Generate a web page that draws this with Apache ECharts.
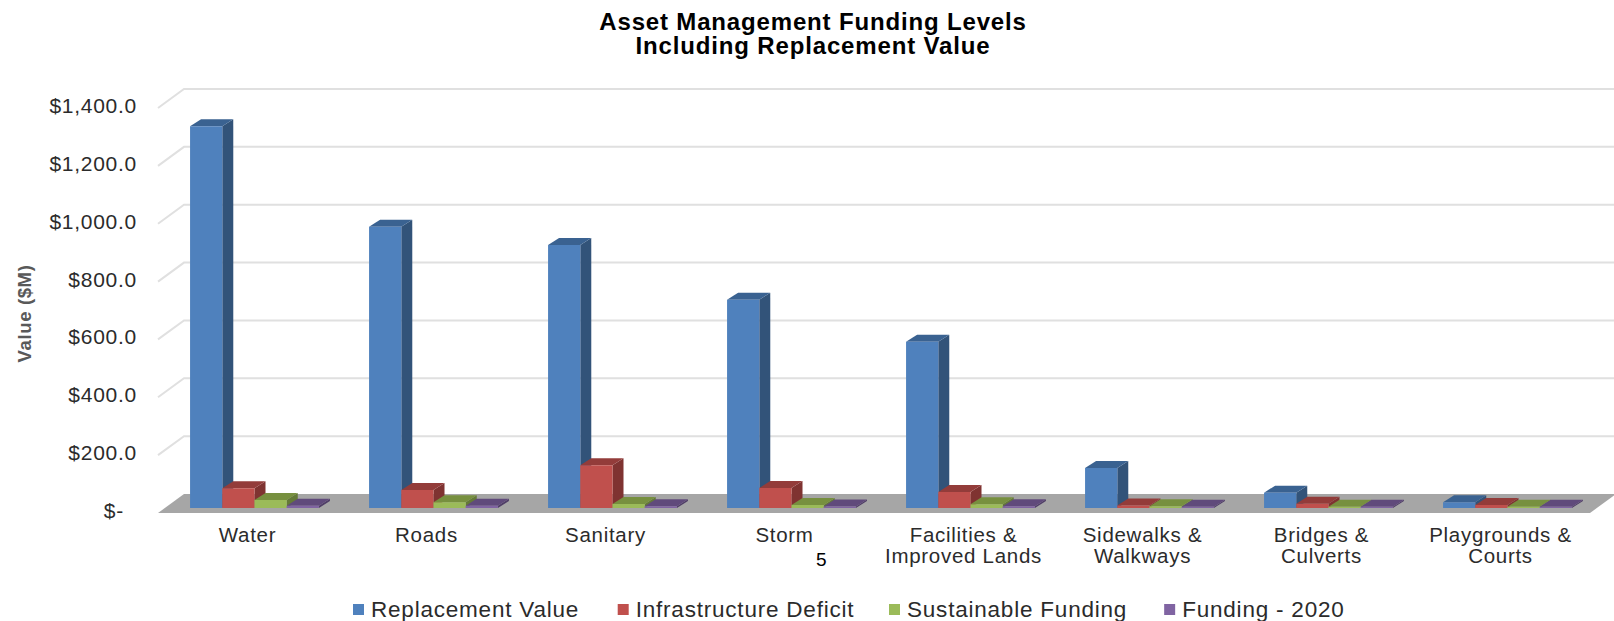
<!DOCTYPE html>
<html><head><meta charset="utf-8">
<style>html,body{margin:0;padding:0;background:#fff}#c{width:1614px;height:621px}
#c text{letter-spacing:.035em}
</style>
<script src="https://cdn.jsdelivr.net/npm/echarts@6/dist/echarts.min.js"></script>
</head><body><div id="c"></div>
<script>
const categories = ['Water','Roads','Sanitary','Storm','Facilities &\nImproved Lands','Sidewalks &\nWalkways','Bridges &\nCulverts','Playgrounds &\nCourts'];
const replacementValue = [1320,972,909,720,575,138,53,20];
const infrastructureDeficit = [68,62,148,69,55,9,15,10];
const sustainableFunding = [28,20,14,10,13,6,4,4];
const funding2020 = [8,8,6,5,6,4,4,4];
const seriesNames = ['Replacement Value','Infrastructure Deficit','Sustainable Funding','Funding - 2020'];
const seriesValues = [replacementValue,infrastructureDeficit,sustainableFunding,funding2020];
const faceColors = ['#4f81bd','#c0504d','#9bbb59','#8064a2'];
const topColors = ['#3a6291','#933c3a','#77903f','#604a7b'];
const sideColors = ['#325379','#7f3331','#647a37','#503e68'];
const yTicks = [0,200,400,600,800,1000,1200,1400];
const font = '"Liberation Sans", Arial, sans-serif';

const floorDepth = [26,-19];
const barOffset = [7,-5];
const barDepth = [11,-7];
const barShare = 0.18;

const chart = echarts.init(document.getElementById('c'), null, {renderer:'svg'});

function renderBar(si){
  return function(params, api){
    const cat = api.value(0), v = api.value(1);
    const base = api.coord([cat,0]), top = api.coord([cat,v]);
    const band = api.size([1,0])[0];
    const w = band*barShare;
    const x0 = base[0]-2*w+si*w+barOffset[0];
    const x1 = x0+w;
    const yb = base[1]+barOffset[1], yt = top[1]+barOffset[1];
    const dx = barDepth[0], dy = barDepth[1];
    return {type:'group',children:[
      {type:'polygon',shape:{points:[[x1,yb],[x1+dx,yb+dy],[x1+dx,yt+dy],[x1,yt]]},style:{fill:sideColors[si]}},
      {type:'polygon',shape:{points:[[x0,yt],[x1,yt],[x1+dx,yt+dy],[x0+dx,yt+dy]]},style:{fill:topColors[si]}},
      {type:'rect',shape:{x:x0,y:yt,width:w,height:yb-yt},style:{fill:faceColors[si]}}
    ]};
  };
}
function renderWalls(params, api){
  const cs = params.coordSys;
  const L = cs.x, R = cs.x+cs.width;
  const dx = floorDepth[0], dy = floorDepth[1];
  const y = api.coord([0,api.value(0)])[1];
  const ch = [];
  if(api.value(0)===0){
    ch.push({type:'polygon',shape:{points:[[L,y],[R,y],[R+dx,y+dy],[L+dx,y+dy]]},style:{fill:'#a6a6a6'}});
  } else {
    ch.push({type:'polyline',shape:{points:[[L,y],[L+dx,y+dy],[R+dx,y+dy]]},style:{fill:'none',stroke:'#e0e0e0',lineWidth:2}});
  }
  return {type:'group',children:ch};
}

const series = [{
  type:'custom',silent:true,z:1,clip:false,
  data:yTicks.map(t=>[t]),encode:{y:0},
  renderItem:renderWalls
}];
seriesNames.forEach((n,si)=>{
  series.push({
    name:n,type:'custom',z:2+si,clip:false,
    itemStyle:{color:faceColors[si]},
    data:seriesValues[si].map((v,i)=>[i,v]),encode:{x:0,y:1},
    renderItem:renderBar(si)
  });
});

chart.setOption({
  animation:false,
  backgroundColor:'#fff',
  title:{text:'Asset Management Funding Levels\nIncluding Replacement Value',left:808,top:4,textAlign:'center',
    textStyle:{fontFamily:font,fontWeight:'bold',fontSize:24,lineHeight:24,color:'#000'}},
  grid:{left:158,width:1432,top:108,height:405,containLabel:false},
  xAxis:{type:'category',data:categories,boundaryGap:true,
    axisLine:{show:false},axisTick:{show:false},
    axisLabel:{color:'#2b2b2b',fontFamily:font,fontSize:20.5,lineHeight:21,margin:11,interval:0}},
  yAxis:{type:'value',min:0,max:1400,interval:200,
    name:'Value ($M)',nameLocation:'middle',nameGap:124,nameRotate:90,
    nameTextStyle:{fontFamily:font,fontWeight:'bold',fontSize:18.5,color:'#595959',padding:[0,6,0,0]},
    axisLine:{show:false},axisTick:{show:false},splitLine:{show:false},
    axisLabel:{color:'#2b2b2b',fontFamily:font,fontSize:21,margin:21,verticalAlign:'bottom',lineHeight:5,
      formatter:v=>v===0?'$-\u00A0\u00A0':'$'+v.toLocaleString('en-US',{minimumFractionDigits:1,maximumFractionDigits:1})}},
  legend:{data:seriesNames,left:348,top:593,itemWidth:11,itemHeight:11,itemGap:52,icon:'rect',
    textStyle:{fontFamily:font,fontSize:22.5,color:'#2b2b2b',padding:[0,0,0,2]}},
  graphic:[{type:'text',left:816,top:550,style:{text:'5',fontFamily:font,fontSize:19,fill:'#000'}}],
  series:series
});
</script></body></html>
